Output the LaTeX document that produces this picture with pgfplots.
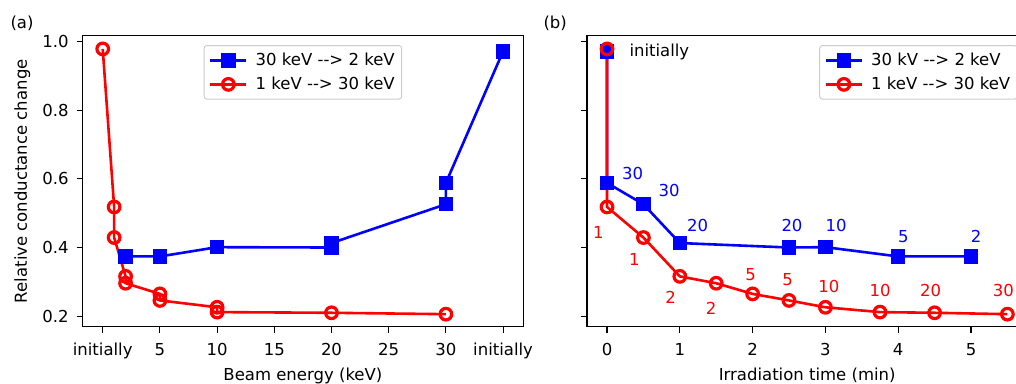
\documentclass[border=0pt]{standalone}
\usepackage{fontspec}
\setmainfont{DejaVu Sans}
\usepackage{pgfplots}
\pgfplotsset{compat=1.18}
\definecolor{mblue}{RGB}{0,0,255}
\definecolor{mred}{RGB}{255,0,0}
\newcommand\myf{\fontsize{16.5}{19.8}\selectfont}
\pgfplotsset{
  myax/.style={
    scale only axis, height=291pt,
    ymin=0.1695, ymax=1.0165,
    ytick={0.2,0.4,0.6,0.8,1.0},
    tick align=outside, tick pos=left,
    major tick length=5.8pt,
    every tick/.style={black, line width=1.1pt},
    axis line style={line width=1.1pt},
    /pgf/number format/assume math mode=true,
    xticklabel style={anchor=base, inner sep=0pt, font=\myf},
    yticklabel style={anchor=east, inner sep=0pt, font=\myf},
    xticklabel shift=0pt, yticklabel shift=0pt,
    legend cell align=left,
    legend image code/.code={\draw[mark repeat=2,mark phase=2] plot coordinates {(0pt,0pt)(18pt,0pt)(36pt,0pt)};},
    every axis legend/.append style={draw=black!20, line width=1pt, rounded corners=3pt, fill=white, inner xsep=5pt, inner ysep=5.8pt, row sep=6pt, font=\myf, nodes={inner sep=2pt, font=\myf}, /tikz/every odd column/.append style={column sep=6pt}},
    clip=false,
  },
  bl/.style={mblue, line width=2.6pt, mark=square*, mark size=6.5pt, mark options={line width=1.5pt, solid}},
  rd/.style={mred, line width=2.6pt, mark=o, mark size=5.8pt, mark options={line width=3.2pt, solid}},
}
\begin{document}
\begin{tikzpicture}[font=\myf]
\useasboundingbox (0pt,0pt) rectangle (1016pt,-383pt);
\begin{scope}
\clip (0pt,0pt) rectangle (1016pt,-383pt);
\begin{axis}[myax, at={(82.7pt,-326.7pt)}, anchor=south west, width=440.4pt,
  xmin=-1.75, xmax=36.75, xtick={0,5,10,15,20,25,30,35},
  xticklabels={initially,5,10,15,20,25,30,initially},
  xticklabel style={yshift=-22.5pt},
  yticklabel style={xshift=-8pt},
  yticklabels={0.2,0.4,0.6,0.8,1.0},
  xlabel={Beam energy (keV)}, ylabel={Relative conductance change},
  xlabel style={at={(axis description cs:0.5,-0.1845)}, anchor=base, inner sep=0pt, font=\myf},
  ylabel style={at={(axis description cs:-0.127,0.5)}, anchor=base, inner sep=0pt, font=\myf},
  legend style={at={(axis description cs:0.5,0.968)}, anchor=north}]
\addplot[bl] coordinates {(35,0.971) (30,0.588) (30,0.526) (20,0.413) (20,0.400) (10,0.401) (5,0.374) (2,0.374)};
\addlegendentry{\myf 30 keV -{}-> 2 keV}
\addplot[rd] coordinates {(0,0.978) (1,0.518) (1,0.429) (2,0.316) (2,0.296) (5,0.265) (5,0.246) (10,0.226) (10,0.212) (20,0.210) (30,0.206)};
\addlegendentry{\myf 1 keV -{}-> 30 keV}
\end{axis}
\begin{axis}[myax, at={(587pt,-326.7pt)}, anchor=south west, width=440.4pt,
  xmin=-0.275, xmax=5.775, xtick={0,1,2,3,4,5},
  xticklabel style={yshift=-22.5pt},
  yticklabels={},
  xlabel={Irradiation time (min)},
  xlabel style={at={(axis description cs:0.5,-0.1845)}, anchor=base, inner sep=0pt, font=\myf},
  legend style={at={(axis description cs:0.978,0.968)}, anchor=north east}]
\addplot[bl] coordinates {(0,0.971) (0,0.588) (0.5,0.526) (1,0.413) (2.5,0.400) (3,0.401) (4,0.374) (5,0.374)};
\addlegendentry{\myf 30 kV -{}-> 2 keV}
\addplot[rd] coordinates {(0,0.978) (0,0.518) (0.5,0.429) (1,0.316) (1.5,0.296) (2,0.265) (2.5,0.246) (3,0.226) (3.75,0.212) (4.5,0.210) (5.5,0.206)};
\addlegendentry{\myf 1 keV -{}-> 30 keV}
\node[anchor=base west, inner sep=0pt] at (axis cs:0.306,0.955) {initially};
\begin{scope}[every node/.style={mblue, inner sep=0pt}]
\node at (axis cs:0.353,0.616) {30};
\node at (axis cs:0.852,0.565) {30};
\node at (axis cs:1.246,0.465) {20};
\node at (axis cs:2.541,0.465) {20};
\node at (axis cs:3.146,0.465) {10};
\node at (axis cs:4.070,0.433) {5};
\node at (axis cs:5.069,0.433) {2};
\end{scope}
\begin{scope}[every node/.style={mred, inner sep=0pt}]
\node at (axis cs:-0.120,0.445) {1};
\node at (axis cs:0.375,0.365) {1};
\node at (axis cs:0.875,0.255) {2};
\node at (axis cs:1.429,0.224) {2};
\node at (axis cs:1.974,0.322) {5};
\node at (axis cs:2.482,0.307) {5};
\node at (axis cs:3.049,0.287) {10};
\node at (axis cs:3.750,0.275) {10};
\node at (axis cs:4.446,0.275) {20};
\node at (axis cs:5.444,0.275) {30};
\end{scope}
\end{axis}
\node[anchor=base west, inner sep=0pt] at (10.3pt,-28.4pt) {(a)};
\node[anchor=base west, inner sep=0pt] at (543.3pt,-28.4pt) {(b)};
\end{scope}
\end{tikzpicture}
\end{document}
